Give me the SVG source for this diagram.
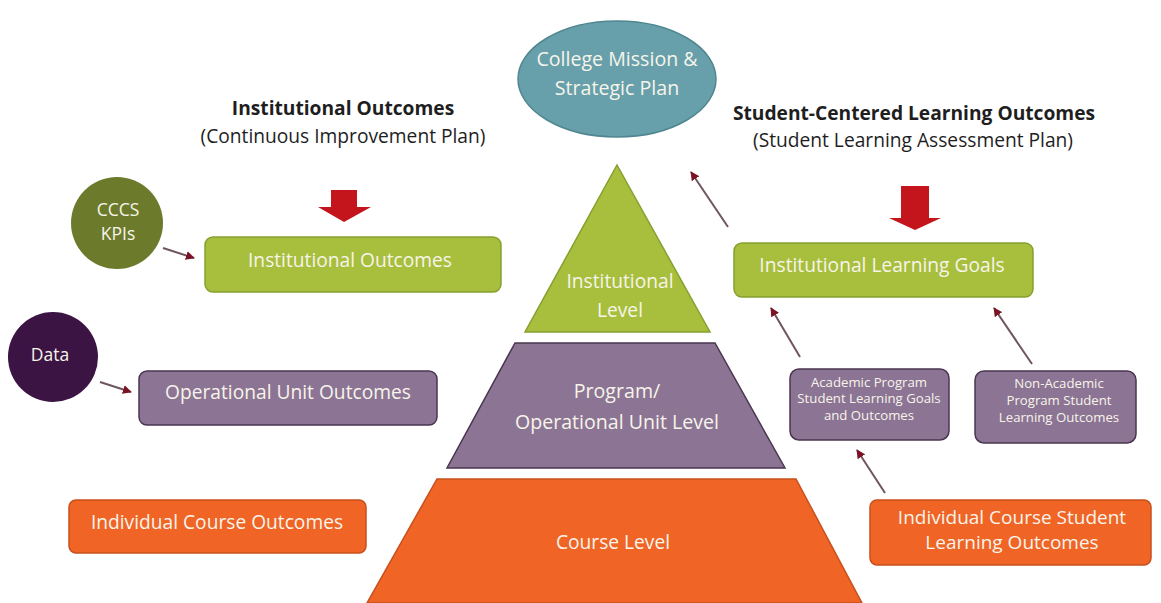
<svg xmlns="http://www.w3.org/2000/svg" width="1161" height="603" viewBox="0 0 1161 603">
  <defs>
    <marker id="head" viewBox="0 0 10 10" refX="9" refY="5" markerWidth="4.5" markerHeight="4.5" orient="auto-start-reverse" markerUnits="strokeWidth">
      <path d="M0,0 L10,5 L0,10 z" fill="#7a1424"/>
    </marker>
    <style>
      .lbl { font-family: "Open Sans", "Noto Sans", sans-serif; fill: #f7f4ea; text-anchor: middle; }
      .title { font-family: "Open Sans", "Noto Sans", sans-serif; fill: #1e1e1e; text-anchor: middle; font-size: 19.2px; }
      .green { fill: #a7bf3d; stroke: #86a02f; stroke-width: 1.5; }
      .purple { fill: #8c7494; stroke: #4a3650; stroke-width: 1.5; }
      .orange { fill: #f06426; stroke: #c8501c; stroke-width: 1.5; }
      .conn { stroke: #6e5560; stroke-width: 2; fill: none; marker-end: url(#head); }
      .big { fill: #c4141c; }
    </style>
  </defs>

  <rect width="1161" height="603" fill="#ffffff"/>

  <!-- Apex: mission -->
  <g id="mission">
    <ellipse cx="617" cy="79" rx="99" ry="58" fill="#67a0aa" stroke="#4f8690" stroke-width="1.5"/>
    <text class="lbl" x="617" y="66" font-size="19.6">College Mission &amp;</text>
    <text class="lbl" x="617" y="95" font-size="19.6">Strategic Plan</text>
  </g>

  <!-- Column headings -->
  <g id="heading-left">
    <text class="title" x="343" y="115" font-weight="bold">Institutional Outcomes</text>
    <text class="title" x="343" y="143">(Continuous Improvement Plan)</text>
  </g>
  <g id="heading-right">
    <text class="title" x="914" y="120" font-weight="bold">Student-Centered Learning Outcomes</text>
    <text class="title" x="913" y="147">(Student Learning Assessment Plan)</text>
  </g>

  <!-- Pyramid tiers -->
  <g id="tier-institutional">
    <polygon class="green" points="617,165 710,332 525,332"/>
    <text class="lbl" x="620" y="288" font-size="19.2">Institutional</text>
    <text class="lbl" x="620" y="317" font-size="19.2">Level</text>
  </g>
  <g id="tier-program">
    <polygon class="purple" points="515,343 715,343 785,468 447,468"/>
    <text class="lbl" x="617" y="398" font-size="19.6">Program/</text>
    <text class="lbl" x="617" y="429" font-size="19.6">Operational Unit Level</text>
  </g>
  <g id="tier-course">
    <polygon class="orange" points="437,479 796,479 862,603 367,603"/>
    <text class="lbl" x="613" y="549" font-size="19.2">Course Level</text>
  </g>

  <!-- Left column -->
  <g id="cccs-kpis">
    <circle cx="117" cy="223" r="46" fill="#6b7a2b"/>
    <text class="lbl" x="118" y="216" font-size="17.5">CCCS</text>
    <text class="lbl" x="118" y="240" font-size="17.5">KPIs</text>
  </g>
  <g id="institutional-outcomes">
    <rect class="green" x="205" y="237" width="296" height="55" rx="8"/>
    <text class="lbl" x="350" y="267" font-size="19.2">Institutional Outcomes</text>
  </g>
  <g id="data">
    <circle cx="53" cy="357" r="45" fill="#3b1444"/>
    <text class="lbl" x="50" y="361" font-size="17.5">Data</text>
  </g>
  <g id="operational-unit-outcomes">
    <rect class="purple" x="139" y="371" width="298" height="54" rx="8"/>
    <text class="lbl" x="288" y="399" font-size="19.2">Operational Unit Outcomes</text>
  </g>
  <g id="individual-course-outcomes">
    <rect class="orange" x="69" y="500" width="297" height="53" rx="7"/>
    <text class="lbl" x="217" y="529" font-size="19.2">Individual Course Outcomes</text>
  </g>

  <!-- Right column -->
  <g id="institutional-learning-goals">
    <rect class="green" x="734" y="243" width="299" height="54" rx="8"/>
    <text class="lbl" x="882" y="272" font-size="19.2">Institutional Learning Goals</text>
  </g>
  <g id="academic-program">
    <rect class="purple" x="790" y="369" width="159" height="71" rx="9"/>
    <text class="lbl" x="869" y="387" font-size="13.2">Academic Program</text>
    <text class="lbl" x="869" y="403" font-size="13.2">Student Learning Goals</text>
    <text class="lbl" x="869" y="420" font-size="13.2">and Outcomes</text>
  </g>
  <g id="non-academic-program">
    <rect class="purple" x="975" y="371" width="161" height="72" rx="9"/>
    <text class="lbl" x="1059" y="388" font-size="13.2">Non-Academic</text>
    <text class="lbl" x="1059" y="405" font-size="13.2">Program Student</text>
    <text class="lbl" x="1059" y="422" font-size="13.2">Learning Outcomes</text>
  </g>
  <g id="individual-course-slo">
    <rect class="orange" x="870" y="500" width="281" height="65" rx="7"/>
    <text class="lbl" x="1012" y="524" font-size="19">Individual Course Student</text>
    <text class="lbl" x="1012" y="549" font-size="19">Learning Outcomes</text>
  </g>

  <!-- Connectors -->
  <g id="connectors">
    <polygon class="big" points="331,190 357,190 357,207 371,207 344,222 318,207 331,207"/>
    <polygon class="big" points="901,186 929,186 929,218 941,218 915,230 889,218 901,218"/>
    <line class="conn" x1="163" y1="248" x2="194" y2="258"/>
    <line class="conn" x1="100" y1="382" x2="131" y2="392"/>
    <line class="conn" x1="728" y1="227" x2="691" y2="172"/>
    <line class="conn" x1="800" y1="357" x2="771" y2="308"/>
    <line class="conn" x1="1032" y1="364" x2="994" y2="308"/>
    <line class="conn" x1="885" y1="493" x2="857" y2="450"/>
  </g>
</svg>
